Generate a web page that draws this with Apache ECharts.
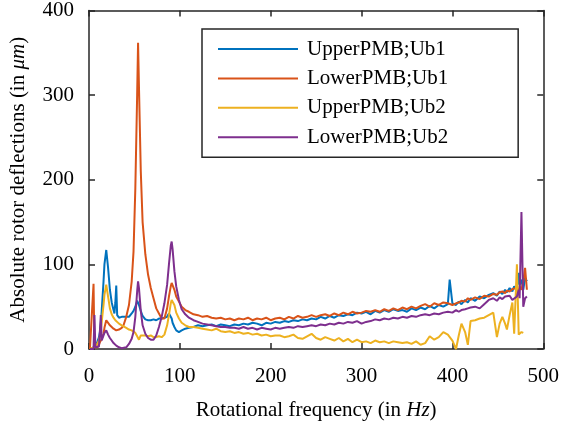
<!DOCTYPE html>
<html>
<head>
<meta charset="utf-8">
<script src="https://cdn.jsdelivr.net/npm/echarts@6/dist/echarts.min.js"></script>
<style>
  html, body { margin: 0; padding: 0; background: #fff; }
  #main { width: 562px; height: 429px; }
</style>
</head>
<body>
<div id="main"></div>
<script>
var freq = [1, 3, 5, 6, 7, 9, 11, 12, 13, 14, 16, 17, 19, 21, 23, 25, 27, 28, 29, 30,
  31, 33, 36, 38, 41, 44, 47, 49, 51, 53, 54, 55, 57, 59, 62, 65, 68, 71, 74, 77,
  80, 83, 86, 88, 90, 91, 92, 94, 96, 99, 102, 106, 110, 115, 120, 125, 130, 135, 140, 145,
  150, 155, 160, 165, 170, 175, 180, 185, 190, 195, 200, 205, 210, 215, 220, 225, 230, 235, 240, 245,
  250, 255, 260, 265, 270, 275, 280, 285, 290, 295, 300, 305, 310, 315, 320, 325, 330, 335, 340, 345,
  350, 355, 360, 365, 370, 375, 380, 385, 390, 395, 397, 400, 404, 407, 410, 414, 417, 420, 425, 430,
  435, 440, 445, 449, 452, 455, 458, 460, 463, 466, 468, 471, 473, 474, 476, 478, 480, 482];

var upperUb1 = [0, 1, 2, 3, 4, 8, 14, 20, 30, 45, 80, 100, 117, 96, 70, 55, 46, 42, 55, 75,
  40, 37, 38, 37, 38, 38, 42, 45, 50, 57, 56, 52, 45, 39, 35, 34, 34, 35, 34, 36,
  36, 37, 38, 42, 40, 36, 31, 26, 22, 20, 22, 24, 25, 26, 28, 27, 28, 29, 27, 29,
  28, 27, 29, 28, 30, 29, 31, 30, 28, 31, 30, 32, 31, 33, 32, 34, 33, 35, 34, 36,
  35, 38, 36, 39, 37, 40, 39, 41, 40, 43, 42, 44, 41, 45, 43, 46, 44, 47, 45, 46,
  44, 48, 46, 49, 47, 51, 48, 52, 50, 53, 82, 54, 52, 56, 53, 58, 55, 60, 57, 62,
  60, 64, 66, 63, 68, 65, 70, 67, 72, 68, 74, 70, 90, 76, 82, 70, 84, 80];

var lowerUb1 = [0, 1, 77, 2, 1, 2, 5, 8, 10, 12, 18, 25, 34, 32, 28, 26, 24, 23, 23, 22,
  22, 23, 25, 28, 38, 52, 80, 115, 190, 300, 362, 310, 210, 150, 112, 88, 72, 60, 48, 42,
  36, 36, 48, 62, 74, 78, 77, 70, 62, 56, 50, 46, 44, 41, 40, 38, 39, 37, 36, 37,
  35, 36, 34, 36, 35, 37, 34, 36, 35, 37, 34, 36, 37, 35, 38, 36, 39, 37, 38, 40,
  38, 40, 41, 39, 42, 40, 43, 41, 44, 42, 43, 45, 44, 46, 44, 47, 45, 48, 46, 49,
  47, 50, 48, 51, 53, 50, 54, 52, 55, 54, 53, 52, 54, 55, 57, 56, 60, 58, 61, 59,
  63, 62, 65, 64, 67, 68, 66, 69, 68, 71, 70, 72, 68, 74, 70, 80, 96, 70];

var upperUb2 = [0, 1, 2, 3, 4, 6, 10, 15, 22, 32, 52, 64, 76, 62, 48, 41, 37, 35, 34, 33,
  32, 30, 28, 27, 25, 23, 22, 20, 19, 15, 13, 11, 16, 15, 16, 15, 16, 14, 14, 15,
  14, 17, 28, 40, 54, 58, 59, 52, 43, 36, 31, 28, 26, 26, 25, 24, 23, 22, 24, 21,
  20, 21, 19, 20, 18, 19, 17, 18, 16, 17, 15, 16, 16, 14, 15, 17, 13, 12, 15, 18,
  13, 11, 14, 12, 10, 13, 9, 12, 8, 11, 8, 9, 7, 10, 8, 9, 7, 9, 8, 7,
  8, 6, 9, 5, 7, 15, 11, 14, 20, 17, 18, 10, 0, 16, 30, 20, 5, 33, 34, 36,
  37, 40, 43, 14, 30, 38, 30, 23, 40, 55, 18, 100, 17, 19, 20, 19, null, null];

var lowerUb2 = [0, 1, 0, 40, 2, 2, 3, 3, 40, 10, 16, 19, 22, 17, 13, 10, 7, 6, 5, 4,
  4, 2, 1, 0, 2, 6, 12, 20, 38, 68, 80, 72, 45, 28, 18, 13, 11, 11, 16, 26,
  38, 54, 76, 100, 122, 127, 118, 92, 74, 58, 47, 41, 37, 34, 32, 30, 29, 28, 27, 26,
  26, 25, 25, 24, 26, 24, 25, 23, 25, 24, 23, 25, 24, 25, 26, 25, 27, 26, 27, 28,
  27, 29, 28, 30, 29, 31, 30, 32, 31, 33, 30, 32, 33, 35, 34, 36, 35, 37, 36, 38,
  37, 39, 38, 40, 41, 40, 42, 41, 43, 44, 45, 43, 46, 44, 46, 47, 48, 49, 50, 48,
  53, 58, 60, 57, 61, 59, 62, 60, 63, 58, 56, 62, 70, 60, 162, 50, 60, 62];

var seriesNames = ['UpperPMB;Ub1', 'LowerPMB;Ub1', 'UpperPMB;Ub2', 'LowerPMB;Ub2'];
var seriesColors = ['#0072BD', '#D95319', '#EDB120', '#7E2F8E'];
var seriesValues = [upperUb1, lowerUb1, upperUb2, lowerUb2];
var xTicks = [0, 500, 100];
var yTicks = [0, 400, 100];

var font = "'Liberation Serif', 'Times New Roman', serif";
var axisColor = '#262626';

function pairs(vals) {
  return freq.map(function (f, i) { return [f, vals[i]]; });
}

var chartDom = document.getElementById('main');
var myChart = echarts.init(chartDom);

var baseAxis = {
  type: 'value',
  axisLine: { show: true, onZero: false, lineStyle: { color: axisColor, width: 1.5 } },
  axisTick: { show: true, inside: true, length: 6, lineStyle: { color: axisColor, width: 1.5 } },
  splitLine: { show: false }
};

var option = {
  animation: false,
  backgroundColor: '#fff',
  grid: { left: 88, right: 16, top: 4, bottom: 80, containLabel: false },
  legend: {
    orient: 'vertical',
    left: 202,
    top: 29,
    padding: [9, 70, 9, 16],
    icon: 'rect',
    itemWidth: 80,
    itemHeight: 2,
    itemGap: 7.4,
    backgroundColor: '#fff',
    borderColor: axisColor,
    borderWidth: 1.5,
    borderRadius: 0,
    textStyle: { fontFamily: font, fontSize: 21, lineHeight: 22, color: '#000', padding: [0, 0, 0, 4] },
    data: seriesNames
  },
  xAxis: [
    Object.assign({}, baseAxis, {
      position: 'bottom',
      min: xTicks[0], max: xTicks[1], interval: xTicks[2],
      axisLabel: { fontFamily: font, fontSize: 21, color: '#000', margin: 17 },
      name: '{n|Rotational frequency (in }{i|Hz}{n|)}',
      nameLocation: 'middle',
      nameGap: 51,
      nameTextStyle: {
        rich: {
          n: { fontFamily: font, fontSize: 21, color: '#000' },
          i: { fontFamily: font, fontSize: 21, fontStyle: 'italic', color: '#000' }
        }
      }
    }),
    Object.assign({}, baseAxis, {
      position: 'top',
      min: xTicks[0], max: xTicks[1], interval: xTicks[2],
      axisLabel: { show: false }
    })
  ],
  yAxis: [
    Object.assign({}, baseAxis, {
      position: 'left',
      min: yTicks[0], max: yTicks[1], interval: yTicks[2],
      axisLabel: { fontFamily: font, fontSize: 21, color: '#000', margin: 15 },
      name: '{n|Absolute rotor deflections (in }{i|μm}{n|)}',
      nameLocation: 'middle',
      nameGap: 60,
      nameRotate: 90,
      nameTextStyle: {
        rich: {
          n: { fontFamily: font, fontSize: 21, color: '#000' },
          i: { fontFamily: font, fontSize: 21, fontStyle: 'italic', color: '#000' }
        }
      }
    }),
    Object.assign({}, baseAxis, {
      position: 'right',
      min: yTicks[0], max: yTicks[1], interval: yTicks[2],
      axisLabel: { show: false }
    })
  ],
  series: seriesNames.map(function (name, k) {
    return {
      name: name,
      type: 'line',
      xAxisIndex: 0,
      yAxisIndex: 0,
      symbol: 'none',
      color: seriesColors[k],
      lineStyle: { width: 2, color: seriesColors[k] },
      data: pairs(seriesValues[k])
    };
  })
};

option && myChart.setOption(option);
</script>
</body>
</html>
